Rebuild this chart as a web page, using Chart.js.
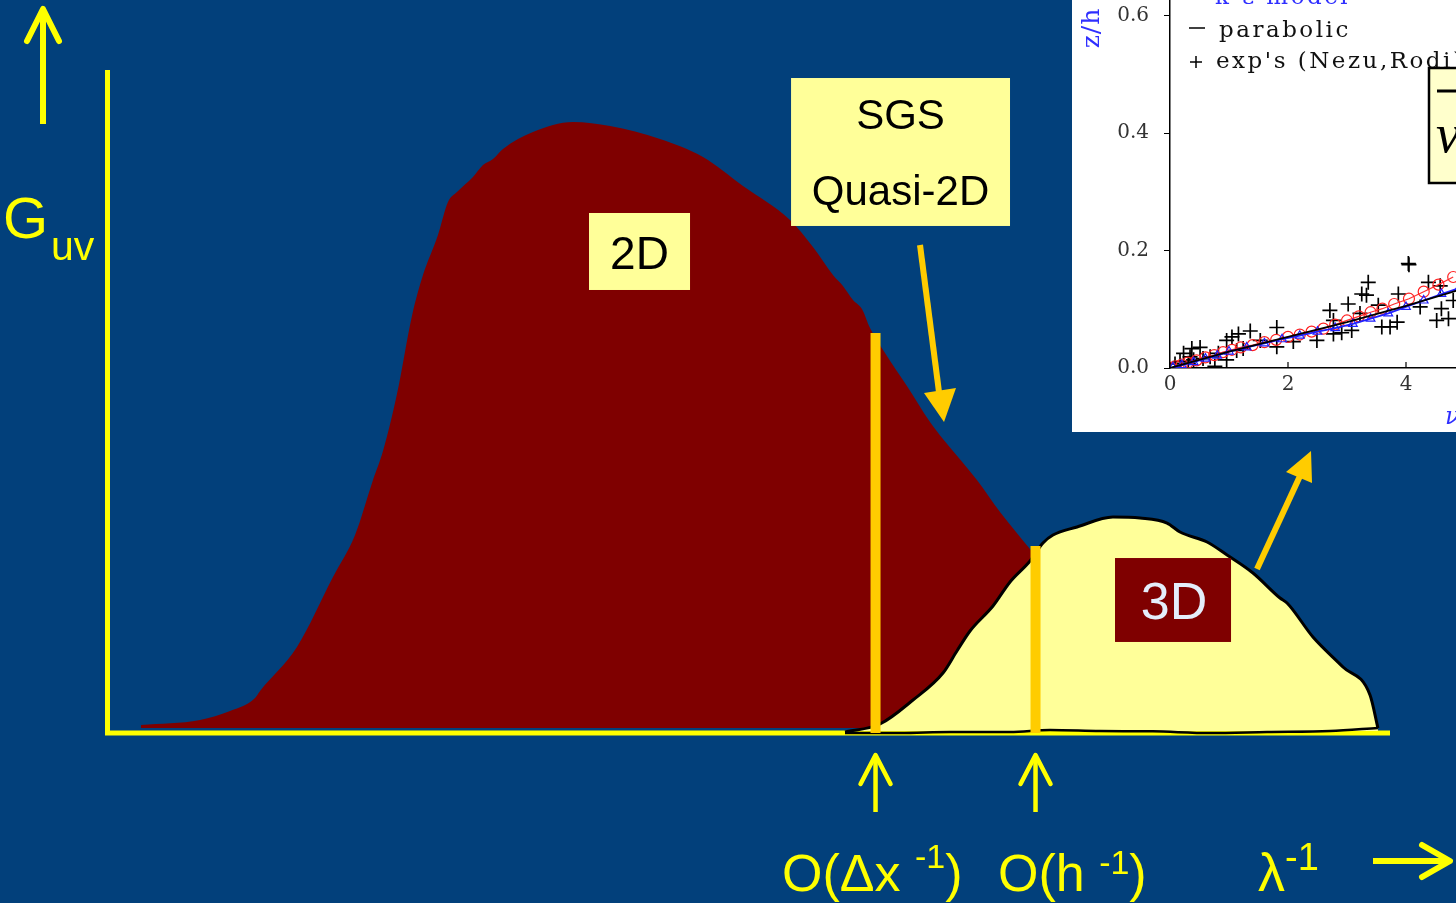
<!DOCTYPE html>
<html>
<head>
<meta charset="utf-8">
<title>Energy spectrum</title>
<script src="https://cdn.jsdelivr.net/npm/chart.js@4.4.1/dist/chart.umd.min.js"></script>
<style>
  html, body { margin: 0; padding: 0; width: 1456px; height: 903px; overflow: hidden; background: #02407b; }
  #main { position: absolute; left: 0; top: 0; }
  #inset { position: absolute; left: 1072px; top: -70px; background: #ffffff; }
</style>
</head>
<body>
<canvas id="main" width="1456" height="903"></canvas>
<canvas id="inset" width="720" height="502"></canvas>
<script>
// ---- main sketch: G_uv against inverse wavelength (arbitrary units 0..100) ----
const lambdaInv2D = [2.57, 7.18, 9.52, 11.47, 11.86, 14.74, 17.55, 19.27, 20.67, 21.45, 22.54, 23.71, 24.57, 25.74, 26.52,
  27.22, 28.47, 29.25, 30.03, 30.81, 33.15, 36.27, 39.16, 43.06, 46.41, 49.53, 53.20, 54.99, 56.55, 57.33, 58.11,
  58.81, 59.44, 60.61, 62.32, 64.12, 65.13, 67.78, 69.58, 71.92, 74.26, 77.38, 79.72, 80.50];
const energy2D = [1.06, 1.81, 3.17, 5.14, 6.19, 12.84, 23.41, 29.76, 38.07, 42.45, 51.06, 62.84, 69.03, 75.08, 80.06,
  81.57, 83.84, 85.65, 86.56, 88.07, 90.63, 92.15, 91.54, 89.58, 86.86, 82.48, 77.34, 73.26, 69.03, 67.37, 65.26,
  63.90, 61.03, 57.25, 52.27, 46.83, 44.26, 38.07, 33.23, 27.64, 22.21, 12.39, 3.32, 0.76];

const lambdaInv3D = [57.49, 60.22, 62.79, 65.13, 66.22, 67.24, 69.03, 70.36, 71.92, 72.93, 73.71, 75.59, 78.39, 80.50,
  82.61, 83.62, 85.73, 87.29, 89.31, 91.42, 91.97, 93.99, 96.33, 98.44, 99.06];
const energy3D = [0, 1.21, 4.83, 8.91, 12.24, 15.26, 19.03, 22.66, 25.83, 28.55, 29.76, 30.97, 32.48, 32.33,
  31.57, 30.21, 28.70, 26.74, 24.02, 20.24, 19.49, 14.35, 9.82, 5.59, 0.60];

const lambdaInv3DBase = [57.49, 61.78, 65.68, 70.36, 73.48, 77.38, 81.5, 85.96, 90.41, 95.32, 99.06];
const energy3DBase = [-0.15, -0.15, 0, 0, 0.3, 0.15, 0.1, -0.15, 0, 0.15, 0.6];

// cut-off markers: O(dx^-1) and O(h^-1)
const cutoffX = [59.87, 72.35];
const cutoffTop = [60.27, 28.10];
const cutoffLabels = [['O(\u0394x ', '-1', ')'], ['O(h ', '-1', ')']];

// ---- inset: z/h against nu_t (k-eps model, parabolic, experiments) ----
const expNu = [0.085, 0.17, 0.31, 0.40, 0.56, 0.68, 0.76, 0.96, 0.82, 1.13, 1.24, 0.23, 0.37, 0.51, 0.34, 0.96, 1.05,
  1.16, 1.36, 1.81, 1.53, 1.81, 2.09, 2.49, 2.71, 2.77, 2.77, 2.91, 3.02, 3.08, 3.25, 3.33, 3.36, 3.22, 3.53, 3.59,
  3.73, 3.85, 3.87, 4.04, 4.05, 4.24, 4.38, 4.58, 4.60, 4.52, 4.72, 4.80];
const expZ = [0.007, 0.011, 0.008, 0.014, 0.016, 0.019, 0.003, 0.014, 0.025, 0.030, 0.033, 0.025, 0.033, 0.035, 0.019,
  0.047, 0.053, 0.058, 0.063, 0.069, 0.047, 0.036, 0.045, 0.047, 0.098, 0.081, 0.058, 0.060, 0.109, 0.064, 0.126,
  0.124, 0.146, 0.093, 0.107, 0.070, 0.070, 0.078, 0.126, 0.178, 0.176, 0.104, 0.146, 0.140, 0.101, 0.081, 0.084, 0.115];

const kepsNu = [0.02, 0.1, 0.2, 0.3, 0.45, 0.6, 0.75, 0.9, 1.05, 1.2, 1.4, 1.6, 1.8, 2.0, 2.2, 2.4, 2.6, 2.8, 3.0,
  3.2, 3.4, 3.6, 3.8, 4.05, 4.3, 4.55, 4.8];
const kepsZ = [0.0005, 0.003, 0.006, 0.009, 0.013, 0.018, 0.022, 0.027, 0.031, 0.035, 0.039, 0.044, 0.048, 0.053,
  0.057, 0.062, 0.067, 0.074, 0.081, 0.088, 0.095, 0.101, 0.109, 0.118, 0.13, 0.142, 0.155];

const lesNu = [0.05, 0.2, 0.4, 0.6, 0.8, 1.0, 1.3, 1.6, 1.9, 2.2, 2.5, 2.8, 3.1, 3.4, 3.7, 4.0, 4.3, 4.6, 4.9];
const lesZ = [0.001, 0.005, 0.010, 0.016, 0.021, 0.028, 0.035, 0.042, 0.049, 0.055, 0.062, 0.068, 0.075, 0.084,
  0.093, 0.104, 0.115, 0.126, 0.136];

const paraNu = [0, 1, 2, 3, 4, 5, 6];
const paraZ = [0, 0.028, 0.053, 0.078, 0.106, 0.136, 0.17];

const insetYTicks = [0, 0.2, 0.4, 0.6];

const SANS = "'Liberation Sans', Arial, sans-serif";
const SERIF = "'DejaVu Serif', serif";
const YELLOW = '#FFFF00';
const ORANGE = '#FFCC00';
const PALE = '#FFFF99';
const MAROON = '#7F0000';

const pts = (xs, ys) => xs.map((x, i) => ({ x, y: ys[i] }));

// draw a run of text pieces, [text, size, baseline]
function drawRuns(ctx, x, runs, color) {
  ctx.fillStyle = color;
  ctx.textAlign = 'left';
  ctx.textBaseline = 'alphabetic';
  for (const [t, size, base] of runs) {
    ctx.font = size + 'px ' + SANS;
    ctx.fillText(t, x, base);
    x += ctx.measureText(t).width;
  }
}

function line(ctx, x1, y1, x2, y2) {
  ctx.beginPath();
  ctx.moveTo(x1, y1);
  ctx.lineTo(x2, y2);
  ctx.stroke();
}

function chevron(ctx, ax, ay, tx, ty, bx, by) {
  ctx.beginPath();
  ctx.moveTo(ax, ay);
  ctx.lineTo(tx, ty);
  ctx.lineTo(bx, by);
  ctx.stroke();
}

function triangle(ctx, pts3) {
  ctx.beginPath();
  ctx.moveTo(pts3[0], pts3[1]);
  ctx.lineTo(pts3[2], pts3[3]);
  ctx.lineTo(pts3[4], pts3[5]);
  ctx.closePath();
  ctx.fill();
}

function labelBox(ctx, chart, x0, y0, x1, y1, fill) {
  const xs = chart.scales.x, ys = chart.scales.y;
  const l = xs.getPixelForValue(x0), r = xs.getPixelForValue(x1);
  const t = ys.getPixelForValue(y0), b = ys.getPixelForValue(y1);
  ctx.fillStyle = fill;
  ctx.fillRect(l, t, r - l, b - t);
  return { cx: (l + r) / 2, t, b };
}

const sketchDecor = {
  id: 'sketchDecor',
  beforeDatasetsDraw(chart) {
    const { ctx, chartArea: a } = chart;
    ctx.save();
    ctx.strokeStyle = YELLOW;
    ctx.lineWidth = 5;
    ctx.lineJoin = 'miter';
    ctx.beginPath();
    ctx.moveTo(a.left - 0.5, a.top);
    ctx.lineTo(a.left - 0.5, a.bottom + 1);
    ctx.lineTo(a.right, a.bottom + 1);
    ctx.stroke();
    ctx.restore();
  },
  afterDatasetsDraw(chart) {
    const { ctx } = chart;
    const xs = chart.scales.x;
    ctx.save();

    // region labels
    let box = labelBox(ctx, chart, 37.52, 78.40, 45.40, 66.77, PALE);
    ctx.fillStyle = '#000';
    ctx.font = '46px ' + SANS;
    ctx.textAlign = 'center';
    ctx.fillText('2D', box.cx, 269);

    box = labelBox(ctx, chart, 53.28, 98.79, 70.36, 76.44, PALE);
    ctx.fillStyle = '#000';
    ctx.font = '42px ' + SANS;
    ctx.fillText('SGS', box.cx, 129);
    ctx.fillText('Quasi-2D', box.cx, 205);

    box = labelBox(ctx, chart, 78.55, 26.28, 87.60, 13.60, MAROON);
    ctx.fillStyle = '#E4EEFB';
    ctx.font = '52px ' + SANS;
    ctx.fillText('3D', box.cx + 1, 619);

    // pointer arrows
    ctx.strokeStyle = ORANGE;
    ctx.fillStyle = ORANGE;
    ctx.lineWidth = 6;
    line(ctx, 920, 245, 939, 392);
    triangle(ctx, [924, 393, 956, 388, 944, 422]);
    line(ctx, 1257, 569, 1300, 476);
    triangle(ctx, [1286, 472, 1312, 483, 1311, 451]);

    // G_uv axis
    ctx.strokeStyle = YELLOW;
    ctx.lineWidth = 6;
    ctx.lineJoin = 'round';
    ctx.lineCap = 'butt';
    line(ctx, 43, 124, 43, 12);
    ctx.lineCap = 'round';
    chevron(ctx, 27, 41, 43, 9, 59, 41);
    drawRuns(ctx, 3, [['G', 58, 238]], YELLOW);
    drawRuns(ctx, 51, [['uv', 41, 260]], YELLOW);

    // cut-off arrows and labels under the axis
    ctx.lineWidth = 4.5;
    const labelX = [782, 998];
    const supBase = [868, 874];
    cutoffX.forEach((v, i) => {
      const px = xs.getPixelForValue(v);
      ctx.lineCap = 'butt';
      line(ctx, px, 812, px, 757);
      ctx.lineCap = 'round';
      chevron(ctx, px - 15, 784, px, 755, px + 15, 784);
      const [a, s, c] = cutoffLabels[i];
      drawRuns(ctx, labelX[i], [[a, 52, 891], [s, 34, supBase[i]], [c, 52, 891]], YELLOW);
    });

    // lambda^-1 axis label and arrow
    drawRuns(ctx, 1258, [['\u03bb', 54, 891], ['-1', 38, 870]], YELLOW);
    ctx.lineWidth = 6;
    ctx.lineCap = 'butt';
    line(ctx, 1373, 861, 1448, 861);
    ctx.lineCap = 'round';
    chevron(ctx, 1422, 845, 1450, 861, 1422, 877);
    ctx.restore();
  }
};

new Chart(document.getElementById('main'), {
  type: 'scatter',
  data: {
    datasets: [
      {
        label: '2D',
        data: pts(lambdaInv2D, energy2D),
        showLine: true,
        borderWidth: 0,
        borderColor: MAROON,
        backgroundColor: MAROON,
        fill: { value: 0.6 },
        pointRadius: 0,
        cubicInterpolationMode: 'monotone',
        order: 4,
      },
      {
        label: '3D',
        data: pts(lambdaInv3D, energy3D),
        showLine: true,
        borderWidth: 3,
        borderColor: '#000000',
        backgroundColor: PALE,
        fill: { value: 0.15 },
        pointRadius: 0,
        cubicInterpolationMode: 'monotone',
        borderJoinStyle: 'round',
        clip: false,
        order: 3,
      },
      {
        label: '3D base',
        data: pts(lambdaInv3DBase, energy3DBase),
        showLine: true,
        borderWidth: 2.5,
        borderColor: '#000000',
        fill: false,
        pointRadius: 0,
        cubicInterpolationMode: 'monotone',
        clip: false,
        order: 2,
      },
      ...cutoffX.map((v, i) => ({
        label: 'cutoff ' + (i + 1),
        data: [{ x: v, y: cutoffTop[i] }, { x: v, y: -0.15 }],
        showLine: true,
        borderWidth: 10,
        borderColor: ORANGE,
        borderCapStyle: 'butt',
        pointRadius: 0,
        clip: false,
        order: 1,
      })),
    ],
  },
  options: {
    responsive: false,
    animation: false,
    devicePixelRatio: 1,
    layout: { padding: { left: 108, right: 66, top: 70, bottom: 171 } },
    scales: {
      x: { type: 'linear', min: 0, max: 100, display: false },
      y: { type: 'linear', min: 0, max: 100, display: false },
    },
    plugins: { legend: { display: false }, tooltip: { enabled: false } },
  },
  plugins: [sketchDecor],
});

// ---- inset chart ----
const insetDecor = {
  id: 'insetDecor',
  afterDatasetsDraw(chart) {
    const { ctx, chartArea: a } = chart;
    const xs = chart.scales.x;
    ctx.save();
    // inward x ticks
    ctx.strokeStyle = '#000';
    ctx.lineWidth = 1.2;
    xs.ticks.forEach(t => {
      const px = xs.getPixelForValue(t.value);
      line(ctx, px, a.bottom, px, a.bottom - 6);
    });

    // legend text
    ctx.textAlign = 'left';
    ctx.textBaseline = 'alphabetic';
    ctx.letterSpacing = '2.5px';
    ctx.font = '23px ' + SERIF;
    ctx.fillStyle = '#2f2fff';
    ctx.fillText('\u03ba-\u03b5 model', 143, 74);
    ctx.fillStyle = '#111';
    ctx.lineWidth = 1.5;
    line(ctx, 117, 98, 133, 98);
    ctx.fillText('parabolic', 147, 107);
    line(ctx, 118, 132, 130, 132);
    line(ctx, 124, 126, 124, 138);
    ctx.fillText("exp's (Nezu,Rodi)", 144, 138);

    // axis titles
    ctx.letterSpacing = '1px';
    ctx.fillStyle = '#2f2fff';
    ctx.save();
    ctx.translate(27, 98);
    ctx.rotate(-Math.PI / 2);
    ctx.textAlign = 'center';
    ctx.font = '25px ' + SERIF;
    ctx.fillText('z/h', 0, 0);
    ctx.restore();
    ctx.font = 'italic 24px ' + SERIF;
    ctx.fillText('\u03bd', 373, 494);

    // formula box
    ctx.letterSpacing = '0px';
    ctx.fillStyle = '#FFFFCC';
    ctx.fillRect(357, 138, 60, 115);
    ctx.strokeStyle = '#000';
    ctx.lineWidth = 2.5;
    ctx.strokeRect(357, 138, 60, 115);
    ctx.lineWidth = 3;
    line(ctx, 365, 161, 400, 161);
    ctx.fillStyle = '#000';
    ctx.font = "italic 54px 'Liberation Serif', serif";
    ctx.fillText('\u03bd', 364, 222);
    ctx.restore();
  }
};

new Chart(document.getElementById('inset'), {
  type: 'scatter',
  data: {
    datasets: [
      {
        label: 'parabolic',
        data: pts(paraNu, paraZ),
        showLine: true,
        borderColor: '#000',
        borderWidth: 1.8,
        pointRadius: 0,
      },
      {
        label: 'LES',
        data: pts(lesNu, lesZ),
        showLine: true,
        borderColor: '#2020ff',
        borderWidth: 1.8,
        pointStyle: 'triangle',
        pointRadius: 5,
        pointBorderColor: '#2020ff',
        pointBackgroundColor: 'rgba(0,0,0,0)',
        pointBorderWidth: 1.2,
      },
      {
        label: 'k-eps model',
        data: pts(kepsNu, kepsZ),
        showLine: true,
        borderColor: '#ff3030',
        borderWidth: 1.2,
        pointStyle: 'circle',
        pointRadius: 5.5,
        pointBorderColor: '#ff2020',
        pointBackgroundColor: 'rgba(0,0,0,0)',
        pointBorderWidth: 1.2,
      },
      {
        label: "exp's (Nezu,Rodi)",
        data: pts(expNu, expZ),
        showLine: false,
        pointStyle: 'cross',
        pointRadius: 7.5,
        pointBorderColor: '#000',
        pointBorderWidth: 1.7,
      },
    ],
  },
  options: {
    responsive: false,
    animation: false,
    devicePixelRatio: 1,
    layout: { padding: { left: 0, right: 32, top: 24, bottom: 0 } },
    scales: {
      x: {
        type: 'linear', min: 0, max: 10,
        ticks: { stepSize: 2, padding: 5, maxRotation: 0, color: '#333', font: { family: SERIF, size: 20 } },
        grid: { drawOnChartArea: false, drawTicks: false },
        border: { display: true, color: '#000', width: 1.5 },
        afterFit: s => { s.height = 64; },
      },
      y: {
        type: 'linear', min: 0, max: 0.7,
        afterBuildTicks: s => { s.ticks = insetYTicks.map(v => ({ value: v })); },
        ticks: { padding: 15, color: '#333', font: { family: SERIF, size: 20 }, callback: v => v.toFixed(1) },
        grid: { drawOnChartArea: false, drawTicks: true, tickLength: 6, color: '#000' },
        border: { display: true, color: '#000', width: 1.5 },
        afterFit: s => { s.width = 98; },
      },
    },
    plugins: { legend: { display: false }, tooltip: { enabled: false } },
  },
  plugins: [insetDecor],
});
</script>
</body>
</html>
